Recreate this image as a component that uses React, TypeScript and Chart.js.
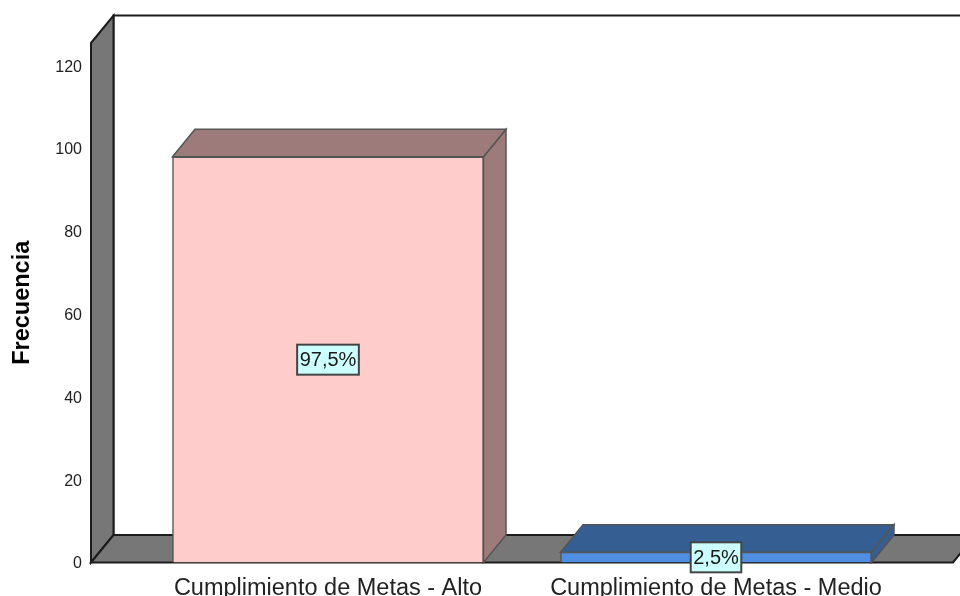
import React, { useEffect, useRef } from "react";
import { Chart, registerables } from "chart.js";

Chart.register(...registerables);

const categories = ["Cumplimiento de Metas - Alto", "Cumplimiento de Metas - Medio"];
const frequencies = [98, 2.5];
const percentLabels = ["97,5%", "2,5%"];
const frontColors = ["#FFCCCC", "#4F8FE3"];
const shadeColors = ["#9E7B7B", "#355E92"];
const yTicks = [0, 20, 40, 60, 80, 100, 120];
const yTitle = "Frecuencia";

const DEPTH_X = 22.5;
const DEPTH_Y = 27.5;
const FONT = "'Liberation Sans', Arial, sans-serif";
const WALL = "#777777";
const EDGE = "#1c1c1c";
const BAR_EDGE = "#555555";

function poly(ctx: CanvasRenderingContext2D, pts: number[][], fill: string | null, stroke: string, lw: number) {
  ctx.beginPath();
  pts.forEach((p, i) => (i ? ctx.lineTo(p[0], p[1]) : ctx.moveTo(p[0], p[1])));
  ctx.closePath();
  if (fill) {
    ctx.fillStyle = fill;
    ctx.fill();
  }
  ctx.strokeStyle = stroke;
  ctx.lineWidth = lw;
  ctx.stroke();
}

const box3d = {
  id: "box3d",
  beforeDatasetsDraw(chart: any) {
    const { ctx, chartArea: a } = chart;
    const dx = DEPTH_X;
    const dy = DEPTH_Y;
    ctx.save();
    poly(ctx, [[a.left + dx, a.top - dy], [a.right + dx + 40, a.top - dy], [a.right + dx + 40, a.bottom - dy], [a.left + dx, a.bottom - dy]], "#ffffff", EDGE, 2);
    poly(ctx, [[a.left, a.top], [a.left + dx, a.top - dy], [a.left + dx, a.bottom - dy], [a.left, a.bottom]], WALL, EDGE, 2);
    poly(ctx, [[a.left, a.bottom], [a.left + dx, a.bottom - dy], [a.right + dx, a.bottom - dy], [a.right, a.bottom]], WALL, EDGE, 2);
    const bars = chart.getDatasetMeta(0).data;
    bars.forEach((b: any, i: number) => {
      const l = b.x - b.width / 2;
      const r = b.x + b.width / 2;
      poly(ctx, [[r, b.y], [r + dx, b.y - dy], [r + dx, b.base - dy], [r, b.base]], shadeColors[i], BAR_EDGE, 1.5);
      poly(ctx, [[l, b.y], [l + dx, b.y - dy], [r + dx, b.y - dy], [r, b.y]], shadeColors[i], BAR_EDGE, 1.5);
    });
    ctx.restore();
  },
  afterDatasetsDraw(chart: any) {
    const { ctx } = chart;
    const bars = chart.getDatasetMeta(0).data;
    ctx.save();
    ctx.font = `20px ${FONT}`;
    ctx.textAlign = "center";
    ctx.textBaseline = "middle";
    bars.forEach((b: any, i: number) => {
      const cy = (b.y + b.base) / 2;
      const w = ctx.measureText(percentLabels[i]).width + 5;
      const h = 30;
      ctx.fillStyle = "#CCFFFF";
      ctx.fillRect(b.x - w / 2, cy - h / 2, w, h);
      ctx.strokeStyle = "#444444";
      ctx.lineWidth = 2;
      ctx.strokeRect(b.x - w / 2, cy - h / 2, w, h);
      ctx.fillStyle = "#1a1a1a";
      ctx.fillText(percentLabels[i], b.x, cy + 1);
    });
    ctx.restore();
  },
};

export default function App() {
  const ref = useRef<HTMLCanvasElement>(null);
  useEffect(() => {
    document.body.style.margin = "0";
    const chart = new Chart(ref.current as HTMLCanvasElement, {
      type: "bar",
      data: {
        datasets: [
          {
            data: frequencies.map((y, x) => ({ x, y })),
            backgroundColor: frontColors,
            borderColor: BAR_EDGE,
            borderWidth: 1.5,
            barThickness: 311,
          },
        ],
      } as any,
      options: {
        responsive: false,
        animation: false,
        layout: { padding: { top: 43, right: 7, left: 0, bottom: 0 } },
        plugins: { legend: { display: false }, tooltip: { enabled: false }, title: { display: false } },
        scales: {
          x: {
            type: "linear",
            offset: false,
            min: -0.6108,
            max: 1.6108,
            grid: { display: false },
            border: { display: false },
            afterBuildTicks: (s: any) => {
              s.ticks = categories.map((_, value) => ({ value }));
            },
            afterFit: (s: any) => {
              s.height = 33.5;
            },
            ticks: {
              autoSkip: false,
              maxRotation: 0,
              minRotation: 0,
              padding: 4,
              color: "#222222",
              font: { family: FONT, size: 23.5 },
              callback: (v: any) => categories[v],
            },
          },
          y: {
            min: 0,
            max: 125.5,
            afterBuildTicks: (s: any) => {
              s.ticks = yTicks.map((value) => ({ value }));
            },
            afterFit: (s: any) => {
              s.width = 91;
            },
            grid: { display: false },
            border: { display: false },
            title: {
              display: true,
              text: yTitle,
              color: "#000000",
              font: { family: FONT, size: 23.5, weight: "bold" },
              padding: { top: 8, bottom: 0 },
            },
            ticks: {
              padding: 1,
              labelOffset: 1.5,
              color: "#222222",
              font: { family: FONT, size: 16 },
            },
          },
        },
      } as any,
      plugins: [box3d],
    });
    return () => chart.destroy();
  }, []);
  return <canvas ref={ref} width={960} height={596} style={{ display: "block" }} />;
}
